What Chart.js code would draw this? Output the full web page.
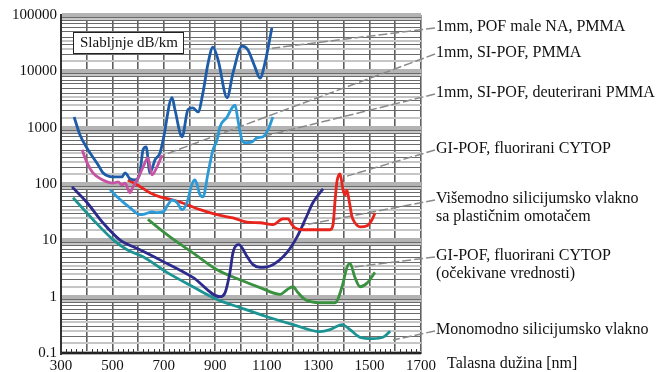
<!DOCTYPE html>
<html lang="sr">
<head>
<meta charset="UTF-8">
<title>Slabljenje optičkih vlakana</title>
<script src="https://cdn.jsdelivr.net/npm/chart.js"></script>
<style>
    body { margin: 0; background: #fff; }
    .grafik { position: relative; width: 660px; height: 372px; }
</style>
</head>
<body>
<div class="grafik"><canvas id="graficoSlabljenje"></canvas></div>

<script>
    // talasna duzina [nm] / slabljenje [dB/km], procitano sa slike
    const pofMaleNaNm = [351, 374, 405, 444, 463, 502, 537, 549, 568, 588, 607, 619, 631, 646, 666, 685, 697, 732, 743, 771, 794, 813, 833, 852, 872, 891, 911, 946, 969, 1004, 1027, 1054, 1074, 1093, 1120];
    const pofMaleNaDb = [1550, 740, 405, 220, 158, 134, 134, 158, 124, 118, 158, 405, 457, 158, 270, 356, 600, 3400, 2100, 690, 2100, 2250, 1900, 4150, 14000, 27000, 15800, 3400, 9400, 28000, 24000, 12000, 7600, 14000, 59000];

    const siPofNm = [382, 401, 424, 463, 502, 522, 537, 549, 568, 580, 600, 619, 638, 654, 673, 693];
    const siPofDb = [405, 240, 158, 118, 104, 109, 97, 104, 70, 89, 128, 200, 290, 145, 200, 325];

    const deuteriraniNm = [491, 522, 568, 607, 627, 654, 673, 697, 716, 732, 751, 771, 790, 809, 821, 841, 852, 872, 891, 907, 918, 946, 965, 977, 988, 1004, 1016, 1043, 1062, 1086, 1105, 1124];
    const deuteriraniDb = [79, 57, 38, 28.5, 29.5, 32, 31, 32, 43, 52, 47, 35, 47, 98, 118, 64, 59, 158, 405, 600, 1030, 1550, 2250, 2500, 1370, 600, 540, 560, 660, 690, 920, 1550];

    const cytopNm = [560, 596, 646, 685, 736, 790, 841, 907, 969, 1023, 1074, 1124, 1163, 1183, 1198, 1210, 1241, 1296, 1346, 1358, 1366, 1373, 1385, 1397, 1404, 1412, 1420, 1432, 1443, 1463, 1490, 1509, 1521];
    const cytopDb = [118, 97, 70, 59, 52, 43, 35, 28.5, 25, 21, 20.5, 19, 24, 24, 19, 16.6, 15.4, 15.4, 15.4, 19, 52, 109, 151, 78, 64, 78, 52, 26, 20.5, 17.4, 18.2, 23, 30.5];

    const visemodnoNm = [343, 401, 463, 529, 607, 685, 813, 918, 938, 957, 969, 992, 1023, 1047, 1074, 1124, 1179, 1218, 1249, 1280, 1319];
    const visemodnoDb = [89, 47, 20.5, 10.2, 6.8, 4.5, 2.2, 1.0, 1.17, 2.7, 6.1, 8.4, 5.2, 3.7, 3.3, 3.7, 6.1, 11.5, 23, 47, 82];

    const cytopOcekNm = [638, 724, 813, 907, 996, 1074, 1152, 1179, 1202, 1222, 1249, 1307, 1366, 1393, 1412, 1424, 1443, 1463, 1490, 1521];
    const cytopOcekDb = [23.5, 11.5, 6.0, 3.0, 2.0, 1.45, 1.1, 1.33, 1.5, 1.17, 0.89, 0.78, 0.78, 1.5, 3.3, 3.9, 2.2, 1.5, 1.74, 2.7];

    const monomodnoNm = [347, 424, 502, 557, 619, 712, 813, 907, 996, 1101, 1202, 1307, 1346, 1393, 1424, 1463, 1513, 1552, 1580];
    const monomodnoDb = [57, 23.5, 10.3, 6.8, 5.1, 2.7, 1.5, 0.89, 0.64, 0.44, 0.32, 0.24, 0.26, 0.32, 0.26, 0.19, 0.18, 0.19, 0.245];

    // podela log papira unutar jedne dekade
    const mantise = [1, 1.5, 2, 2.5, 3, 3.5, 4, 5, 6, 7, 8, 8.5, 9];

    // opisi krivih desno od grafika: tekst i tacka (nm, dB/km) do koje ide linija
    const opisi = [
        { tekst: ['1mm, POF male NA, PMMA'], y: 27, nm: 1120, db: 25700 },
        { tekst: ['1mm, SI-POF, PMMA'], y: 53, nm: 697, db: 324 },
        { tekst: ['1mm, SI-POF, deuterirani PMMA'], y: 93, nm: 1105, db: 733 },
        { tekst: ['GI-POF, fluorirani CYTOP'], y: 149, nm: 1412, db: 138 },
        { tekst: ['Višemodno silicijumsko vlakno', 'sa plastičnim omotačem'], y: 199, nm: 1241, db: 18.6 },
        { tekst: ['GI-POF, fluorirani CYTOP', '(očekivane vrednosti)'], y: 256, nm: 1436, db: 3.35 },
        { tekst: ['Monomodno silicijumsko vlakno'], y: 330, nm: 1591, db: 0.17 }
    ];

    const FONT = '"Liberation Serif", "DejaVu Serif", serif';

    function tacke(nm, db) {
        return nm.map((x, i) => ({ x: x, y: db[i] }));
    }

    function kriva(nm, db, boja) {
        return {
            data: tacke(nm, db),
            borderColor: boja,
            borderWidth: 2.8,
            pointRadius: 0,
            fill: false,
            cubicInterpolationMode: 'monotone'
        };
    }

    function jeDekada(v) {
        const e = Math.log10(v);
        return Math.abs(e - Math.round(e)) < 1e-6;
    }

    function jeCeo(v) {
        const m = v / Math.pow(10, Math.floor(Math.log10(v) + 1e-9));
        return Math.abs(m - Math.round(m)) < 1e-6;
    }

    const dodaci = {
        id: 'dodaci',
        beforeDatasetsDraw(chart) {
            const { ctx, chartArea, scales } = chart;
            const x = scales.x, y = scales.y;

            // sitne crtice na x osi, svakih 20 nm
            ctx.save();
            ctx.strokeStyle = '#333';
            ctx.lineWidth = 1;
            for (let nm = 320; nm < 1700; nm += 20) {
                if (nm % 100 === 0) continue;
                const px = Math.round(x.getPixelForValue(nm)) + 0.5;
                ctx.beginPath();
                ctx.moveTo(px, chartArea.bottom);
                ctx.lineTo(px, chartArea.bottom - 4);
                ctx.stroke();
            }

            // okvir sa jedinicom
            const bx = chartArea.left + 12, by = chartArea.top + 17;
            ctx.fillStyle = '#fff';
            ctx.fillRect(bx, by, 110, 21);
            ctx.strokeStyle = '#222';
            ctx.lineWidth = 1;
            ctx.strokeRect(bx + 0.5, by + 0.5, 110, 21);
            ctx.fillStyle = '#111';
            ctx.font = '15px ' + FONT;
            ctx.textBaseline = 'middle';
            ctx.fillText('Slabljnje dB/km', bx + 7, by + 11.5);

            // linije do opisa
            ctx.strokeStyle = '#8a8a8a';
            ctx.lineWidth = 1.5;
            ctx.setLineDash([9, 3]);
            opisi.forEach(o => {
                ctx.beginPath();
                ctx.moveTo(chartArea.right + 14, o.y + 1);
                ctx.lineTo(x.getPixelForValue(o.nm), y.getPixelForValue(o.db));
                ctx.stroke();
            });
            ctx.restore();
        },
        afterDraw(chart) {
            const { ctx, chartArea } = chart;
            ctx.save();
            ctx.fillStyle = '#111';
            ctx.font = '16px ' + FONT;
            ctx.textBaseline = 'middle';
            const tx = chartArea.right + 15;
            opisi.forEach(o => {
                o.tekst.forEach((t, i) => ctx.fillText(t, tx, o.y + i * 18));
            });
            ctx.fillText('Talasna dužina [nm]', chartArea.right + 26, chartArea.bottom + 11);
            ctx.restore();
        }
    };

    const config = {
        type: 'line',
        data: {
            datasets: [
                kriva(siPofNm, siPofDb, '#c652a2'),
                kriva(pofMaleNaNm, pofMaleNaDb, '#1c5ca8'),
                kriva(deuteriraniNm, deuteriraniDb, '#2b9ad6'),
                kriva(cytopNm, cytopDb, '#e8241c'),
                kriva(visemodnoNm, visemodnoDb, '#2c2a8c'),
                kriva(cytopOcekNm, cytopOcekDb, '#3a9140'),
                kriva(monomodnoNm, monomodnoDb, '#1c9494')
            ]
        },
        options: {
            responsive: true,
            maintainAspectRatio: false,
            animation: false,
            layout: { padding: { top: 15, right: 239, left: 0, bottom: 0 } },
            plugins: {
                legend: { display: false },
                tooltip: { enabled: false }
            },
            scales: {
                x: {
                    type: 'linear',
                    min: 300,
                    max: 1700,
                    afterFit: s => { s.height = 19; },
                    border: { color: '#222', width: 2 },
                    grid: { color: '#5e5e5e', lineWidth: 1.6, drawTicks: false },
                    ticks: {
                        stepSize: 100,
                        autoSkip: false,
                        maxRotation: 0,
                        padding: 4,
                        color: '#111',
                        font: { family: FONT, size: 15 },
                        callback: v => ((v - 300) % 200 === 0 ? v : '')
                    }
                },
                y: {
                    type: 'logarithmic',
                    min: 0.1,
                    max: 100000,
                    afterFit: s => { s.width = 61; },
                    afterBuildTicks: s => {
                        const t = [];
                        for (let e = -1; e <= 5; e++) {
                            mantise.forEach(m => {
                                const v = m * Math.pow(10, e);
                                if (v <= 100001) t.push({ value: v });
                            });
                        }
                        s.ticks = t;
                    },
                    border: { color: '#333', width: 2 },
                    grid: {
                        drawTicks: false,
                        color: c => jeDekada(c.tick.value) ? '#b3b3b3' : (jeCeo(c.tick.value) ? '#6a6a6a' : '#c6c6c6'),
                        lineWidth: c => jeDekada(c.tick.value) ? 4 : (jeCeo(c.tick.value) ? 1 : 2)
                    },
                    ticks: {
                        autoSkip: false,
                        padding: 4,
                        color: '#111',
                        font: { family: FONT, size: 15 },
                        callback: v => jeDekada(v) ? String(Number(v.toPrecision(1))) : ''
                    }
                }
            }
        },
        plugins: [dodaci]
    };

    new Chart(document.getElementById('graficoSlabljenje'), config);
</script>
</body>
</html>
